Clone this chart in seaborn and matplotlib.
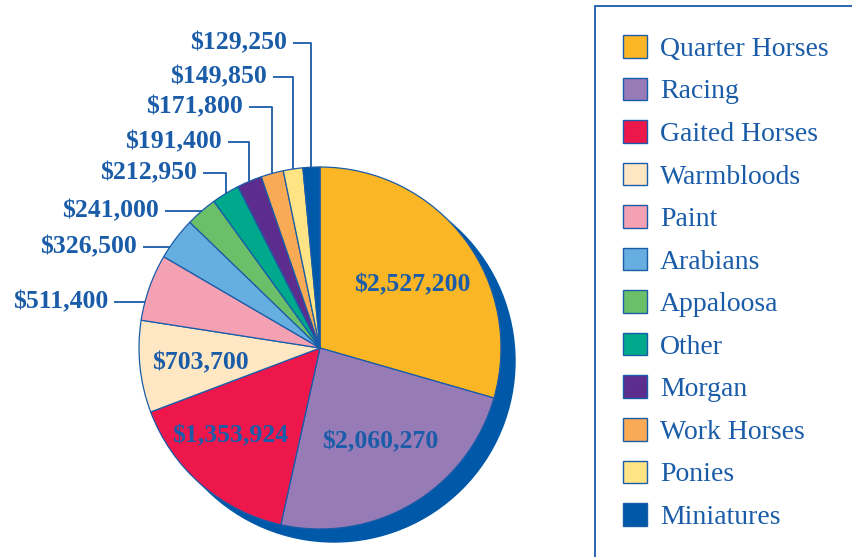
import numpy as np
import matplotlib.pyplot as plt
import seaborn as sns
from matplotlib.patches import Circle, Rectangle, Patch

# data
breeds = ["Quarter Horses", "Racing", "Gaited Horses", "Warmbloods", "Paint",
          "Arabians", "Appaloosa", "Other", "Morgan", "Work Horses", "Ponies",
          "Miniatures"]
values = [2527200, 2060270, 1353924, 703700, 511400, 326500, 241000,
          212950, 191400, 171800, 149850, 129250]
colors = ["#FBB625", "#977BB7", "#ED174B", "#FFE7C4", "#F4A1B4", "#66AEDF",
          "#6CBF69", "#00A98B", "#5C2D8D", "#F9AA55", "#FFE486", "#0058A8"]

blue = "#1a5ca8"

sns.set_theme(style="white")
plt.rcParams['font.family'] = ['Liberation Serif', 'DejaVu Serif']

W, H = 852, 557
fig = plt.figure(figsize=(W / 100, H / 100), dpi=100)
ax = fig.add_axes([0, 0, 1, 1])

# pie geometry in pixel units (y up)
cx, cy, r = 320, H - 348, 181

# shadow disc
ax.add_patch(Circle((cx + 14, cy - 13), r, color="#0058A8", zorder=0))

wedges, _ = ax.pie(values, colors=colors, startangle=90, counterclock=False,
                   center=(cx, cy), radius=r, frame=True,
                   wedgeprops=dict(edgecolor=blue, linewidth=0.9))
ax.set_xlim(0, W)
ax.set_ylim(0, H)
ax.set_aspect("equal")
ax.axis("off")

def money(v):
    return "${:,}".format(v)

# labels inside the big slices (pixel positions, y from top)
inside_xy = [(412, 285), (380, 442), (230, 436), (200, 363)]
for v, (x, y) in zip(values[:4], inside_xy):
    ax.text(x, H - y, money(v), ha="center", va="center", fontsize=18.5,
            fontweight="bold", color=blue)

# labels outside with leader lines (right end of text, y from top)
outside_xy = [(108, 302), (137, 247), (159, 211), (197, 173), (222, 142),
              (243, 107), (267, 77), (287, 43)]
for w, v, (tx, ty) in zip(wedges[4:], values[4:], outside_xy):
    ty = H - ty
    ax.text(tx, ty, money(v), ha="right", va="center", fontsize=18.5,
            fontweight="bold", color=blue)
    th = np.deg2rad((w.theta1 + w.theta2) / 2)
    mx, my = cx + r * np.cos(th), cy + r * np.sin(th)
    if ty > my + 2:
        xs, ys = [tx + 6, mx, mx], [ty, ty, my]
    else:
        ax_x = cx - np.sqrt(r ** 2 - (ty - cy) ** 2)
        xs, ys = [tx + 6, ax_x], [ty, ty]
    ax.plot(xs, ys, color=blue, lw=1.3, solid_capstyle="butt")

# legend box
ax.add_patch(Rectangle((595, -10), 400, H - 6 + 10, fill=False,
                       edgecolor=blue, lw=1.3, clip_on=False))
handles = [Patch(facecolor=c, edgecolor=blue, linewidth=1.0, label=b)
           for b, c in zip(breeds, colors)]
ax.legend(handles=handles, loc="upper left",
          bbox_to_anchor=(623 / W, 1 - 35 / H), frameon=False, fontsize=20,
          handlelength=0.87, handleheight=0.87, handletextpad=0.47,
          labelspacing=0.565, borderpad=0, borderaxespad=0, labelcolor=blue)

fig.savefig("out.png", dpi=100)
